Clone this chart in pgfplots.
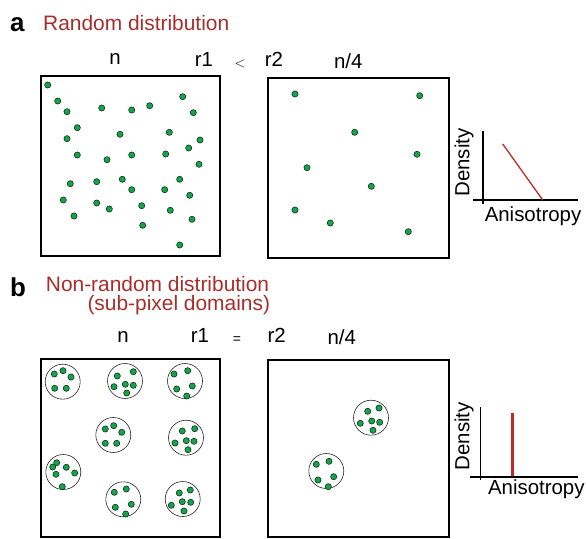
\documentclass[border=0pt]{standalone}
\usepackage{fontspec}
\setmainfont{Liberation Sans}
\usepackage{pgfplots}
\pgfplotsset{compat=1.18}
\definecolor{dotgreen}{RGB}{22,163,74}
\definecolor{titlered}{RGB}{168,45,42}
\definecolor{linered}{RGB}{185,45,40}
\tikzset{lab/.style={font=\fontsize{20.5}{24}\selectfont, inner sep=0pt},
  ttl/.style={font=\fontsize{21}{19.5}\selectfont, inner sep=0pt, text=titlered, anchor=base west},
  pan/.style={font=\fontsize{26}{28}\selectfont\bfseries, inner sep=0pt, anchor=base west}}
\begin{document}
\begin{tikzpicture}
\begin{axis}[
  scale only axis, width=586bp, height=539bp,
  xmin=0, xmax=586, ymin=0, ymax=539, y dir=reverse,
  hide axis, clip=false,
]
\path (rel axis cs:0,0) rectangle (rel axis cs:1,1);
% ---------- boxes
\addplot[black, line width=1.8pt, line join=miter, mark=none] coordinates {(41,76)(220,76)(220,256)(41,256)(41,76)(220,76)};
\addplot[black, line width=1.8pt, line join=miter, mark=none] coordinates {(268,78)(449,78)(449,258)(268,258)(268,78)(449,78)};
\addplot[black, line width=1.8pt, line join=miter, mark=none] coordinates {(41,359)(220,359)(220,537)(41,537)(41,359)(220,359)};
\addplot[black, line width=1.8pt, line join=miter, mark=none] coordinates {(268,360)(449,360)(449,537)(268,537)(268,360)(449,360)};
% ---------- domain circles
\addplot[only marks, mark=o, mark size=17.5bp, mark options={draw=black!85, line width=0.6pt, fill=none}] coordinates {
(62.7,381.7)(125,381)(185,381)(113.3,435)(186,437.7)(63.3,472)(123.3,499.3)(182.7,499)
(371,417.7)(326.3,471)};
% ---------- dots
\pgfplotsset{dotstyle/.style={only marks, mark=*, mark size=3.1bp, mark options={fill=dotgreen, draw=black!80!dotgreen, line width=0.5pt}}}
\addplot[dotstyle] coordinates {
(47.7,85)(57.7,101)(67,111.7)(101.7,108)(131.7,110)(149.7,105.7)(182.7,96.7)(193.3,112.7)
(77.3,127.7)(67,138.7)(120,134.3)(169.3,132.3)(200,140)(188.7,148)
(77.3,155)(107,159.7)(131.7,155)(165.7,154)(199,164.3)
(70.3,183.7)(96.7,181.7)(122.3,179.3)(131.7,189.7)(164.7,189.7)(179.7,179.3)(189.7,195.3)
(63.3,200)(96.7,203)(109.3,209)(141.7,205.7)(170.3,210.3)(74,216)(192,219.3)(142.7,225.3)(179.7,245)};
\addplot[dotstyle] coordinates {
(295,94)(419.7,95.7)(354.7,132.3)(417,154.3)(307,167.7)(371.3,186.3)(295,210)(330.3,223)(408.3,231.7)};
\addplot[dotstyle] coordinates {
(54.3,374)(63,370.7)(71,377)(54.7,388.3)(66.3,388.3)
(117.3,376)(133.3,371.7)(114,386.7)(125.3,384.3)(133.3,385.3)(126.7,393)
(174,374)(187.7,370.7)(176.7,389)(192.3,386)(186.7,396)
(105.3,429)(113.7,425.7)(121.7,432.3)(105.3,443.3)(116.7,443.3)
(182.3,431)(194.7,428.7)(175,443)(186.3,440.7)(194,441.3)(188,449.7)
(56.7,462.7)(52.7,467)(56,474.3)(66.3,467.3)(74.7,473)(62.3,486.7)
(114.3,492.3)(126.3,489)(115.3,507.3)(131.3,504.3)(125.7,514)
(179.3,493)(190.3,490)(171.3,505.3)(182.3,501.7)(190.7,502.3)(184,511)};
\addplot[dotstyle] coordinates {
(367.7,411.3)(379,408)(360.3,423.3)(371.7,421)(379.7,422.3)(373,430.3)
(316.3,464.3)(329,461.3)(318,480)(333.7,476.7)(328.3,486.7)};
% ---------- density plots
\addplot[black, line width=1.6pt, mark=none] coordinates {(482.7,131)(482.7,203.5)};
\addplot[black, line width=1.6pt, mark=none] coordinates {(473.3,200)(578.3,200)};
\addplot[linered, line width=1.3pt, mark=none] coordinates {(502.7,144)(542.7,200)};
\addplot[black, line width=1.6pt, mark=none] coordinates {(480.3,407.3)(480.3,480)};
\addplot[black, line width=1.6pt, mark=none] coordinates {(470,476.7)(578.3,476.7)};
\addplot[linered, line width=2.6pt, mark=none] coordinates {(512.3,412.7)(512.3,475.5)};
% ---------- text
\node[pan] at (axis cs:10,31.5) {a};
\node[ttl] at (axis cs:43,30.7) {Random distribution};
\node[lab] at (axis cs:115,59.3) {n};
\node[lab] at (axis cs:204,59.3) {r1};
\node[lab] at (axis cs:240,64) {\fontsize{14}{16}\selectfont $<$};
\node[lab] at (axis cs:274,59.3) {r2};
\node[lab] at (axis cs:348.3,61) {n/4};
\node[lab, rotate=90] at (axis cs:464,162.5) {Density};
\node[lab] at (axis cs:533,216.7) {Anisotropy};
\node[pan] at (axis cs:10,296) {b};
\node[ttl, align=left] at (axis cs:45.7,310.7) {Non-random distribution\\\hspace*{41.6bp}(sub-pixel domains)};
\node[lab] at (axis cs:123,336.7) {n};
\node[lab] at (axis cs:200,335) {r1};
\node[lab] at (axis cs:237,340) {\fontsize{14}{16}\selectfont =};
\node[lab] at (axis cs:276.7,335) {r2};
\node[lab] at (axis cs:341.7,336.7) {n/4};
\node[lab, rotate=90] at (axis cs:464,436.3) {Density};
\node[lab] at (axis cs:536.3,489.3) {Anisotropy};
\end{axis}
\end{tikzpicture}
\end{document}
